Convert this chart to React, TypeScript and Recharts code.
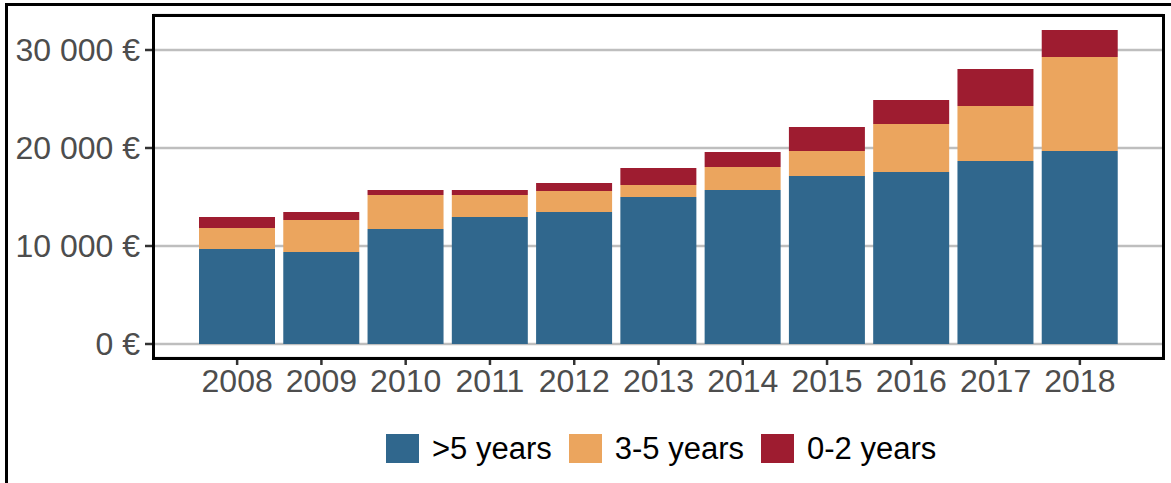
import { BarChart, Bar, XAxis, YAxis, CartesianGrid } from 'recharts';

const YEARS = ['2008', '2009', '2010', '2011', '2012', '2013', '2014', '2015', '2016', '2017', '2018'];
const OVER_5_YEARS = [9700, 9390, 11730, 12960, 13470, 15000, 15710, 17140, 17550, 18670, 19690];
const YEARS_3_5 = [2140, 3260, 3470, 2240, 2140, 1220, 2350, 2550, 4900, 5620, 9600];
const YEARS_0_2 = [1120, 820, 510, 510, 820, 1740, 1530, 2450, 2450, 3770, 2750];
const Y_TICKS = [0, 10000, 20000, 30000];
const SERIES_KEYS = ['over5', 'mid', 'recent'];
const SERIES_NAMES = ['>5 years', '3-5 years', '0-2 years'];

const COLORS: Record<string, string> = {
  over5: '#30678D',
  mid: '#EBA55E',
  recent: '#9E1C30',
};

const WIDTH = 1171;
const HEIGHT = 483;
const MARGIN = { top: 15, right: 8, bottom: 75, left: 0 };
const Y_AXIS_WIDTH = 153;
const X_AXIS_HEIGHT = 50;
const FONT = '"Liberation Sans", Arial, sans-serif';

const data = YEARS.map((year, i) => ({
  year,
  over5: OVER_5_YEARS[i],
  mid: YEARS_3_5[i],
  recent: YEARS_0_2[i],
}));

const formatEuro = (v: number) => String(v).replace(/\B(?=(\d{3})+(?!\d))/g, ' ') + ' €';

export default function App() {
  const plotLeft = MARGIN.left + Y_AXIS_WIDTH;
  const plotTop = MARGIN.top;
  const plotRight = WIDTH - MARGIN.right;
  const plotBottom = HEIGHT - MARGIN.bottom - X_AXIS_HEIGHT;
  const border = 3;

  return (
    <div style={{ position: 'absolute', left: 0, top: 0, width: WIDTH, height: HEIGHT, background: '#fff', overflow: 'hidden', fontFamily: FONT }}>
      {/* outer frame (top + left edges visible) */}
      <div
        style={{
          position: 'absolute',
          left: 5,
          top: 3,
          width: WIDTH + 20,
          height: HEIGHT + 20,
          borderTop: `${border}px solid #000`,
          borderLeft: `${border}px solid #000`,
        }}
      />

      <div style={{ position: 'absolute', left: 0, top: 0 }}>
        <BarChart width={WIDTH} height={HEIGHT} data={data} margin={MARGIN}>
          <CartesianGrid vertical={false} stroke="#BEBEBE" strokeWidth={2.5} strokeDasharray="" />
          <XAxis
            dataKey="year"
            height={X_AXIS_HEIGHT}
            padding={{ left: 42, right: 41 }}
            axisLine={false}
            tickLine={{ stroke: '#333', strokeWidth: 2.5 }}
            tickSize={7}
            tickMargin={4}
            tick={{ fill: '#4D4D4D', fontSize: 32, fontFamily: FONT }}
            interval={0}
          />
          <YAxis
            width={Y_AXIS_WIDTH}
            domain={[-1429, 33571]}
            ticks={Y_TICKS}
            allowDataOverflow
            axisLine={false}
            tickLine={{ stroke: '#333', strokeWidth: 2.5 }}
            tickSize={8}
            tickMargin={5}
            tickFormatter={formatEuro}
            tick={{ fill: '#4D4D4D', fontSize: 32, fontFamily: FONT }}
          />
          {SERIES_KEYS.map((key) => (
            <Bar key={key} dataKey={key} stackId="a" fill={COLORS[key]} barSize={76} isAnimationActive={false} />
          ))}
        </BarChart>
      </div>

      {/* panel border */}
      <div
        style={{
          position: 'absolute',
          left: plotLeft - border / 2,
          top: plotTop - border / 2,
          width: plotRight - plotLeft + border,
          height: plotBottom - plotTop + border,
          border: `${border}px solid #000`,
          boxSizing: 'border-box',
          pointerEvents: 'none',
        }}
      />

      {/* Legend */}
      <div style={{ position: 'absolute', left: 386, top: 434, display: 'flex', alignItems: 'center' }}>
        {SERIES_KEYS.map((key, i) => (
          <div key={key} style={{ display: 'flex', alignItems: 'center', marginRight: 17 }}>
            <div style={{ width: 33, height: 29, backgroundColor: COLORS[key], marginRight: 13 }}></div>
            <span style={{ fontSize: 31, color: '#000', lineHeight: '29px' }}>{SERIES_NAMES[i]}</span>
          </div>
        ))}
      </div>
    </div>
  );
}
